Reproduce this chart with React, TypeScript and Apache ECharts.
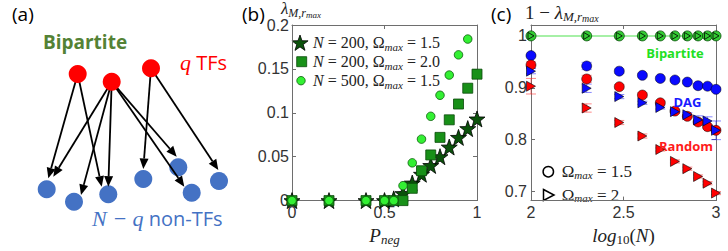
import React, { useEffect, useRef } from 'react';
import * as echarts from 'echarts';

// ---------- Panel (b) data ----------
const pNeg200 = [0, 0.2, 0.4, 0.5, 0.55, 0.6, 0.65, 0.7, 0.75, 0.8, 0.85, 0.9, 0.95, 1.0];
const lamN200Om15 = [0, 0, 0, 0, 0.002, 0.008, 0.02, 0.03, 0.04, 0.05, 0.061, 0.072, 0.082, 0.093];
const lamN200Om20 = [0, 0, 0, 0, 0, 0, 0.014, 0.034, 0.052, 0.072, 0.092, 0.11, 0.128, 0.144];
const pNeg500 = [0, 0.2, 0.4, 0.5, 0.55, 0.6, 0.65, 0.7, 0.75, 0.8, 0.85, 0.9, 0.95];
const lamN500Om15 = [0, 0, 0, 0, 0, 0.017, 0.043, 0.07, 0.096, 0.12, 0.143, 0.166, 0.184];

// ---------- Panel (c) data ----------
const netSizes = [100, 200, 300, 400, 500, 600, 700, 800, 900, 1000];
const bipOm15 = [1, 1, 1, 1, 1, 1, 1, 1, 1, 1];
const bipOm2 = [1, 1, 1, 1, 1, 1, 1, 1, 1, 1];
const dagOm15 = [0.962, 0.942, 0.932, 0.924, 0.918, 0.915, 0.911, 0.904, 0.903, 0.897];
const dagOm15Err = [0.002, 0.007, 0.004, 0.003, 0.003, 0.003, 0.003, 0.003, 0.003, 0.003];
const rndOm15 = [0.944, 0.917, 0.902, 0.886, 0.871, 0.855, 0.845, 0.834, 0.825, 0.818];
const rndOm15Err = [0.006, 0.007, 0.004, 0.004, 0.003, 0.003, 0.003, 0.003, 0.003, 0.003];
const dagOm2 = [0.932, 0.899, 0.883, 0.871, 0.862, 0.854, 0.848, 0.838, 0.836, 0.818];
const dagOm2Err = [0.005, 0.008, 0.004, 0.003, 0.003, 0.003, 0.004, 0.008, 0.008, 0.018];
const rndOm2 = [0.903, 0.861, 0.833, 0.807, 0.781, 0.758, 0.744, 0.729, 0.716, 0.697];
const rndOm2Err = [0.015, 0.008, 0.004, 0.004, 0.003, 0.003, 0.003, 0.003, 0.003, 0.003];
const cTicksY = [0.7, 0.8, 0.9, 1];

// ---------- Panel (a) diagram layout ----------
const tfNodes = [[77.7, 74], [111.7, 81.7], [151, 68.3]];
const targetNodes = [[46.7, 189.3], [74, 201.7], [108.3, 194.3], [143.3, 179], [178.3, 167.3], [191.7, 192.7], [219, 181]];
const edges = [
  [0, 48.3, 178.3], [0, 101.7, 186.7],
  [1, 53.3, 176.7], [1, 81, 195], [1, 108.3, 186.7], [1, 176.7, 156.7], [1, 184.3, 186.7],
  [2, 143.3, 169], [2, 218.3, 170],
];

function starPoints(cx: number, cy: number, R: number, r: number) {
  const pts: number[][] = [];
  for (let i = 0; i < 10; i++) {
    const a = -Math.PI / 2 + (i * Math.PI) / 5;
    const rad = i % 2 === 0 ? R : r;
    pts.push([cx + rad * Math.cos(a), cy + rad * Math.sin(a)]);
  }
  return pts;
}
const starPath = 'path://' + starPoints(50, 50, 50, 20).map((p, i) => (i ? 'L' : 'M') + p[0].toFixed(2) + ',' + p[1].toFixed(2)).join(' ') + 'Z';
const triRightPath = 'path://M0,0 L10,5 L0,10 Z';

const SERIF = 'Liberation Serif';
const SANS = 'Liberation Sans';
const mathRich = (size: number) => ({
  i: { fontFamily: SERIF, fontStyle: 'italic', fontSize: size, lineHeight: 22, verticalAlign: 'middle' },
  n: { fontFamily: SERIF, fontSize: size, lineHeight: 22, verticalAlign: 'middle' },
  s: { fontFamily: SERIF, fontStyle: 'italic', fontSize: Math.round(size * 0.7), lineHeight: 13, verticalAlign: 'bottom' },
  su: { fontFamily: SERIF, fontSize: Math.round(size * 0.7), lineHeight: 13, verticalAlign: 'bottom' },
  ss: { fontFamily: SERIF, fontStyle: 'italic', fontSize: Math.round(size * 0.55), lineHeight: 7, verticalAlign: 'bottom' },
});

const fmt = (v: number) => String(parseFloat(Number(v).toFixed(3)));
const axisLine = { show: true, onZero: false, lineStyle: { color: '#6e6e6e', width: 1 } };
const axisTick = { show: true, inside: true, length: 4, lineStyle: { color: '#6e6e6e', width: 1 } };
const labelStyle = { fontFamily: SANS, fontSize: 16, color: '#333' };

function errorBarSeries(xs: number[], ys: number[], errs: number[], color: string) {
  return {
    type: 'custom',
    xAxisIndex: 2,
    yAxisIndex: 2,
    clip: false,
    z: 1,
    encode: { x: 0, y: 1 },
    data: xs.map((x, i) => [x, ys[i], errs[i]]),
    renderItem: (_p: any, api: any) => {
      const x = api.value(0), y = api.value(1), e = api.value(2);
      const a = api.coord([x, y + e]);
      const b = api.coord([x, y - e]);
      const w = 5;
      const st = { stroke: color, lineWidth: 1 };
      return {
        type: 'group',
        children: [
          { type: 'line', shape: { x1: a[0], y1: a[1], x2: b[0], y2: b[1] }, style: st },
          { type: 'line', shape: { x1: a[0] - w, y1: a[1], x2: a[0] + w, y2: a[1] }, style: st },
          { type: 'line', shape: { x1: b[0] - w, y1: b[1], x2: b[0] + w, y2: b[1] }, style: st },
        ],
      };
    },
  };
}

function buildGraphics() {
  const g: any[] = [];
  // Panel (a) network
  targetNodes.forEach(([cx, cy]) => g.push({ type: 'circle', shape: { cx, cy, r: 9 }, style: { fill: '#4472c4' }, z: 1 }));
  edges.forEach(([si, tx, ty]) => {
    const [sx, sy] = tfNodes[si];
    const dx = tx - sx, dy = ty - sy;
    const len = Math.hypot(dx, dy);
    const ux = dx / len, uy = dy / len;
    const bx = tx - ux * 10.5, by = ty - uy * 10.5;
    const px = -uy * 4.5, py = ux * 4.5;
    g.push({ type: 'line', shape: { x1: sx, y1: sy, x2: bx, y2: by }, style: { stroke: '#000', lineWidth: 1.8 }, z: 2 });
    g.push({ type: 'polygon', shape: { points: [[tx, ty], [bx + px, by + py], [bx - px, by - py]] }, style: { fill: '#000' }, z: 2 });
  });
  tfNodes.forEach(([cx, cy]) => g.push({ type: 'circle', shape: { cx, cy, r: 9 }, style: { fill: '#ff0000' }, z: 3 }));
  g.push({ type: 'text', x: 85, y: 42, style: { text: 'Bipartite', fontFamily: 'Open Sans', fontWeight: 'bold', fontSize: 19, fill: '#548235', align: 'center', verticalAlign: 'middle' } });
  g.push({ type: 'text', x: 180, y: 62, style: { text: '{m|q} TFs', fontFamily: 'Open Sans', fontSize: 20, fill: '#ff0000', align: 'left', verticalAlign: 'middle', rich: { m: { fontFamily: SERIF, fontStyle: 'italic', fontSize: 22, fill: '#ff0000' } } } });
  g.push({ type: 'text', x: 92, y: 218, style: { text: '{m|N − q} non-TFs', fontFamily: 'Open Sans', fontSize: 20, fill: '#4472c4', align: 'left', verticalAlign: 'middle', rich: { m: { fontFamily: SERIF, fontStyle: 'italic', fontSize: 22, fill: '#4472c4' } } } });

  // Panel letters
  const letter = (t: string, x: number) => ({ type: 'text', x, y: 14, style: { text: t, fontFamily: 'Open Sans', fontSize: 19, fill: '#000', align: 'left', verticalAlign: 'middle' } });
  g.push(letter('(a)', 12), letter('(b)', 242), letter('(c)', 491));

  // Panel (b) y title
  g.push({ type: 'text', x: 281, y: 8, style: { text: '{i|λ}{s|M,r}{ss|max}', fill: '#222', align: 'left', verticalAlign: 'middle', rich: mathRich(17) } });
  // Panel (c) y title
  g.push({ type: 'text', x: 525, y: 12, style: { text: '{n|1 − }{i|λ}{s|M,r}{ss|max}', fill: '#222', align: 'left', verticalAlign: 'middle', rich: mathRich(19) } });

  // Panel (b) legend
  const legRich = { i: { fontFamily: SERIF, fontStyle: 'italic', fontSize: 16, lineHeight: 20, verticalAlign: 'middle' }, s: { fontFamily: SERIF, fontStyle: 'italic', fontSize: 11, lineHeight: 12, verticalAlign: 'bottom' } };
  const legItems = [
    { y: 42.7, text: '{i|N} = 200, Ω{s|max} = 1.5' },
    { y: 61.7, text: '{i|N} = 200, Ω{s|max} = 2.0' },
    { y: 80.7, text: '{i|N} = 500, Ω{s|max} = 1.5' },
  ];
  g.push({ type: 'polygon', shape: { points: starPoints(300, 43.5, 8.5, 3.4) }, style: { fill: '#0b520b', stroke: '#000', lineWidth: 0.8 } });
  g.push({ type: 'rect', shape: { x: 296.7, y: 56.7, width: 10, height: 10 }, style: { fill: '#189018', stroke: '#0a4a0a', lineWidth: 0.8 } });
  g.push({ type: 'circle', shape: { cx: 301, cy: 80.7, r: 4.2 }, style: { fill: '#33f033', stroke: '#0a5a0a', lineWidth: 0.8 } });
  legItems.forEach((it) => g.push({ type: 'text', x: 313, y: it.y, style: { text: it.text, fontFamily: SERIF, fontSize: 16, fill: '#222', align: 'left', verticalAlign: 'middle', rich: legRich } }));

  // Panel (c) legend
  g.push({ type: 'circle', shape: { cx: 548.3, cy: 171.7, r: 5.2 }, style: { fill: 'none', stroke: '#000', lineWidth: 1.5 } });
  g.push({ type: 'polygon', shape: { points: [[543.5, 189.5], [554, 195], [543.5, 200.5]] }, style: { fill: 'none', stroke: '#000', lineWidth: 1.5 } });
  g.push({ type: 'text', x: 561.7, y: 171.7, style: { text: 'Ω{s|max} = 1.5', fontFamily: SERIF, fontSize: 17, fill: '#222', align: 'left', verticalAlign: 'middle', rich: legRich } });
  g.push({ type: 'text', x: 561.7, y: 195, style: { text: 'Ω{s|max} = 2', fontFamily: SERIF, fontSize: 17, fill: '#222', align: 'left', verticalAlign: 'middle', rich: legRich } });

  // Panel (c) annotations
  const ann = (t: string, x: number, y: number, c: string) => ({ type: 'text', x, y, z: 10, style: { text: t, fontFamily: 'Open Sans', fontWeight: 'bold', fontSize: 13, fill: c, align: 'center', verticalAlign: 'middle' } });
  g.push(ann('Bipartite', 675, 53, '#22e022'), ann('DAG', 687.5, 101.7, '#1a1aff'), ann('Random', 686, 146, '#ff1a1a'));
  return g;
}

function buildOption() {
  const logN = netSizes.map((n) => Math.log10(n));
  const pair = (xs: number[], ys: number[]) => xs.map((x, i) => [x, ys[i]]);
  const cx = { xAxisIndex: 2, yAxisIndex: 2, clip: false };
  return {
    animation: false,
    backgroundColor: '#fff',
    grid: [
      { left: 292, top: 25, width: 185, height: 184.5 },
      { left: 531, top: 25, width: 185, height: 184.5 },
    ],
    xAxis: [
      { gridIndex: 0, type: 'value', min: 0, max: 1, interval: 0.5, position: 'bottom', axisLine, axisTick, splitLine: { show: false },
        axisLabel: { ...labelStyle, margin: 4, formatter: fmt },
        name: '{i|P}{s|neg}', nameLocation: 'middle', nameGap: 17, nameTextStyle: { color: '#222', rich: mathRich(19) } },
      { gridIndex: 0, type: 'value', min: 0, max: 1, interval: 0.5, position: 'top', axisLine, axisTick, axisLabel: { show: false }, splitLine: { show: false } },
      { gridIndex: 1, type: 'value', min: 2, max: 3, interval: 0.5, position: 'bottom', axisLine, axisTick, splitLine: { show: false },
        axisLabel: { ...labelStyle, margin: 4, formatter: fmt },
        name: '{i|log}{su|10}{n|(}{i|N}{n|)}', nameLocation: 'middle', nameGap: 17, nameTextStyle: { color: '#222', rich: mathRich(19) } },
      { gridIndex: 1, type: 'value', min: 2, max: 3, interval: 0.5, position: 'top', axisLine, axisTick, axisLabel: { show: false }, splitLine: { show: false } },
    ],
    yAxis: [
      { gridIndex: 0, type: 'value', min: 0, max: 0.2, interval: 0.05, position: 'left', axisLine, axisTick, splitLine: { show: false },
        axisLabel: { ...labelStyle, margin: 3, formatter: fmt } },
      { gridIndex: 0, type: 'value', min: 0, max: 0.2, interval: 0.05, position: 'right', axisLine, axisTick, axisLabel: { show: false }, splitLine: { show: false } },
      { gridIndex: 1, type: 'value', min: 0.6825, max: 1.021, position: 'left', axisLine,
        axisTick: { ...axisTick, customValues: cTicksY }, splitLine: { show: false },
        axisLabel: { ...labelStyle, margin: 4, formatter: fmt, customValues: cTicksY } },
      { gridIndex: 1, type: 'value', min: 0.6825, max: 1.021, position: 'right', axisLine,
        axisTick: { ...axisTick, customValues: cTicksY }, axisLabel: { show: false }, splitLine: { show: false } },
    ],
    series: [
      { name: 'N = 200, Ωmax = 1.5', type: 'scatter', xAxisIndex: 0, yAxisIndex: 0, clip: false, data: pair(pNeg200, lamN200Om15),
        symbol: starPath, symbolSize: 16, itemStyle: { color: '#0b520b', borderColor: '#000', borderWidth: 0.8, opacity: 1 }, z: 2 },
      { name: 'N = 200, Ωmax = 2.0', type: 'scatter', xAxisIndex: 0, yAxisIndex: 0, clip: false, data: pair(pNeg200, lamN200Om20),
        symbol: 'rect', symbolSize: 10, itemStyle: { color: '#189018', borderColor: '#0a4a0a', borderWidth: 0.8, opacity: 1 }, z: 3 },
      { name: 'N = 500, Ωmax = 1.5', type: 'scatter', xAxisIndex: 0, yAxisIndex: 0, clip: false, data: pair(pNeg500, lamN500Om15),
        symbol: 'circle', symbolSize: 8.5, itemStyle: { color: '#33f033', borderColor: '#0a5a0a', borderWidth: 0.8, opacity: 1 }, z: 4 },

      errorBarSeries(logN, dagOm15, dagOm15Err, 'rgba(40,40,255,0.55)'),
      errorBarSeries(logN, rndOm15, rndOm15Err, 'rgba(255,40,40,0.55)'),
      errorBarSeries(logN, dagOm2, dagOm2Err, 'rgba(40,40,255,0.55)'),
      errorBarSeries(logN, rndOm2, rndOm2Err, 'rgba(255,40,40,0.55)'),

      { name: 'Bipartite, Ωmax = 1.5', type: 'line', ...cx, data: pair(logN, bipOm15), symbol: 'circle', symbolSize: 10, showSymbol: true,
        lineStyle: { color: '#a6f0a6', width: 2 }, itemStyle: { color: '#33cc33', borderColor: '#0a4a0a', borderWidth: 0.8 }, z: 3 },
      { name: 'Bipartite, Ωmax = 2', type: 'scatter', ...cx, data: pair(logN, bipOm2), symbol: triRightPath, symbolSize: [6, 7],
        itemStyle: { color: '#33cc33', borderColor: '#000', borderWidth: 0.8, opacity: 1 }, z: 4 },
      { name: 'DAG, Ωmax = 1.5', type: 'scatter', ...cx, data: pair(logN, dagOm15), symbol: 'circle', symbolSize: 10,
        itemStyle: { color: '#0a0aff', borderColor: '#000', borderWidth: 0.5, opacity: 1 }, z: 3 },
      { name: 'Random, Ωmax = 1.5', type: 'scatter', ...cx, data: pair(logN, rndOm15), symbol: 'circle', symbolSize: 10,
        itemStyle: { color: '#ff0000', borderColor: '#000', borderWidth: 0.5, opacity: 1 }, z: 3 },
      { name: 'DAG, Ωmax = 2', type: 'scatter', ...cx, data: pair(logN, dagOm2), symbol: triRightPath, symbolSize: [9, 10],
        itemStyle: { color: '#0a0aff', borderColor: '#000', borderWidth: 0.6, opacity: 1 }, z: 4 },
      { name: 'Random, Ωmax = 2', type: 'scatter', ...cx, data: pair(logN, rndOm2), symbol: triRightPath, symbolSize: [9, 10],
        itemStyle: { color: '#ff0000', borderColor: '#000', borderWidth: 0.6, opacity: 1 }, z: 4 },
    ],
    graphic: buildGraphics(),
  };
}

export default function App() {
  const ref = useRef<HTMLDivElement>(null);
  useEffect(() => {
    const chart = echarts.init(ref.current!, null, { renderer: 'svg' });
    chart.setOption(buildOption() as any);
    return () => chart.dispose();
  }, []);
  return <div ref={ref} style={{ position: 'fixed', left: 0, top: 0, width: 728, height: 251, background: '#fff' }} />;
}
